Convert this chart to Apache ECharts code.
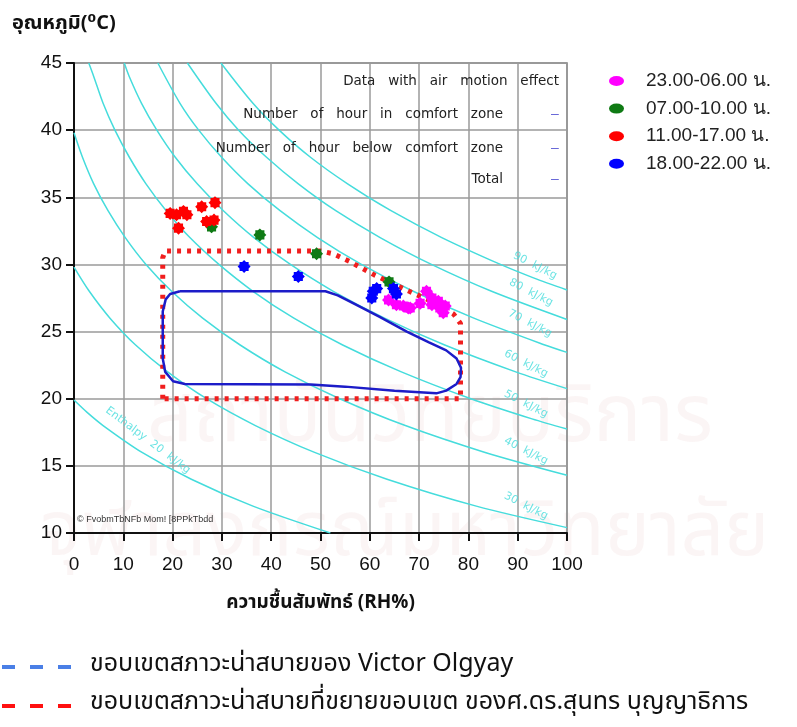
<!DOCTYPE html>
<html>
<head>
<meta charset="utf-8">
<script src="https://cdn.jsdelivr.net/npm/echarts@6/dist/echarts.min.js"></script>
<style>
  html, body { margin: 0; padding: 0; background: #fff; }
  #chart { width: 797px; height: 727px; }
</style>
</head>
<body>
<div id="chart"></div>
<script>
// scatter groups: relative humidity (%) and temperature (C)
var groupNames = ['23.00-06.00 น.', '07.00-10.00 น.', '11.00-17.00 น.', '18.00-22.00 น.'];
var nightRH = [63.8, 65.4, 66.8, 67.8, 68.2, 70.2, 71.5, 72.6, 72.6, 73.9, 74.2, 74.9, 75.3];
var nightT  = [27.35, 27.0, 26.9, 26.75, 26.75, 27.1, 28.0, 27.5, 27.0, 27.25, 26.75, 26.4, 26.9];
var morningRH = [27.9, 37.7, 49.2, 63.9];
var morningT  = [32.8, 32.2, 30.8, 28.7];
var dayRH = [19.5, 20.8, 22.2, 22.9, 21.2, 25.9, 28.6, 26.9, 28.4];
var dayT  = [33.8, 33.7, 33.95, 33.7, 32.7, 34.3, 34.6, 33.2, 33.3];
var eveningRH = [34.5, 45.5, 60.4, 60.7, 61.4, 64.8, 65.4];
var eveningT  = [29.85, 29.1, 27.5, 28.0, 28.2, 28.2, 27.8];

// comfort zones [RH, T]
var olgyayZone = [[21.5,28.0],[51,28.0],[53.5,27.7],[56.7,27.1],[62,26.1],[67.5,25.0],[72,24.2],[75.5,23.6],[77.6,23.0],[78.5,22.3],[78.4,21.6],[77.6,21.1],[75.5,20.6],[73.5,20.4],[65,20.6],[55,20.9],[48,21.05],[22.5,21.1],[20.1,21.3],[18.5,22.0],[18.0,23.0],[18.0,26.5],[18.6,27.4],[19.5,27.8],[21.5,28.0]];
var extendedZone = [[18,20],[18,30.5],[18.5,31],[50,31],[52.5,30.8],[56,30.2],[61,29.2],[68,28],[74,27],[77,26.3],[78.4,25.6],[78.4,20],[18,20]];

// enthalpy lines [RH, T]
var enthalpyLevels = [20, 30, 40, 50, 60, 70, 80, 90];
var enthalpy20 = [[0,19.9],[2.6,19],[5.9,18],[13.8,16],[23.8,14],[36.3,12],[52,10]];
var enthalpy30 = [[0,29.8],[3.1,28],[7.3,26],[12.5,24],[19,22],[26.9,20],[36.8,18],[48.8,16],[63.5,14],[81.6,12],[100,10.4]];
var enthalpy40 = [[0,39.8],[1.7,38],[4,36],[6.9,34],[10.4,32],[14.6,30],[19.8,28],[26.1,26],[33.7,24],[42.8,22],[53.9,20],[67.2,18],[83.4,16],[100,14.3]];
var enthalpy50 = [[3,45],[4,44],[5.9,42],[8.3,40],[11.2,38],[14.6,36],[18.7,34],[23.5,32],[29.4,30],[36.3,28],[44.6,26],[54.5,24],[66.4,22],[80.5,20],[92.9,18.5],[100,17.75]];
var enthalpy60 = [[10.2,45],[11.2,44],[13.7,42],[16.8,40],[20.5,38],[25,36],[30.3,34],[36.5,32],[43.9,30],[52.6,28],[63,26],[75.2,24],[89.6,22],[100,20.75]];
var enthalpy70 = [[17,45],[21.5,42],[25.3,40],[29.9,38],[35.3,36],[41.8,34],[49.4,32],[58.3,30],[68.8,28],[81.1,26],[95.5,24],[100,23.45]];
var enthalpy80 = [[23,45],[28.8,42],[33.4,40],[39,38],[45.5,36],[53.1,34],[62.1,32],[72.5,30],[84.7,28],[100,25.9]];
var enthalpy90 = [[29.8,45],[36.3,42],[41.6,40],[47.9,38],[55.5,36],[64.3,34],[74.6,32],[86.5,30],[93.2,29],[100,28.1]];
var enthalpyLines = [enthalpy20, enthalpy30, enthalpy40, enthalpy50, enthalpy60, enthalpy70, enthalpy80, enthalpy90];
var enthalpyTexts = ['Enthalpy  20  kJ/kg', '30  kJ/kg', '40  kJ/kg', '50  kJ/kg', '60  kJ/kg', '70  kJ/kg', '80  kJ/kg', '90  kJ/kg'];

// where the enthalpy captions sit (data coords) and their tilt
var captionAt = [[15,16.9],[91.7,12.0],[91.7,16.1],[91.7,19.6],[91.7,22.6],[92.5,25.6],[92.7,27.9],[93.5,29.9]];
var captionTilt = [-37, -27, -27, -27, -27, -27, -27, -27];

var NARROW = "'Liberation Sans Narrow', 'Arial Narrow', 'Liberation Sans', sans-serif";
var THAI = "'Noto Sans Thai', 'Noto Sans Thai Looped', 'TH Sarabun New', Loma, Garuda, Norasi, 'Tlwg Typist', 'DejaVu Sans', sans-serif";
var CYAN = '#45dcdc';
var flower = 'path://M5,0 L6.5,1.5 L8.5,1.5 L8.5,3.5 L10,5 L8.5,6.5 L8.5,8.5 L6.5,8.5 L5,10 L3.5,8.5 L1.5,8.5 L1.5,6.5 L0,5 L1.5,3.5 L1.5,1.5 L3.5,1.5 Z';

function pairs(xs, ys) {
  return xs.map(function (x, i) { return [x, ys[i]]; });
}

var chart = echarts.init(document.getElementById('chart'), null, { renderer: 'canvas' });

var series = [];
enthalpyLines.forEach(function (pts, i) {
  series.push({
    name: 'h' + enthalpyLevels[i], type: 'line', data: pts, smooth: 0.3,
    symbol: 'none', silent: true, z: 1,
    lineStyle: { color: CYAN, width: 1.5 }
  });
});
series.push({
  name: 'captions', type: 'scatter', symbolSize: 0, silent: true, z: 2,
  data: captionAt.map(function (p, i) {
    return { value: p, label: { show: true, position: 'inside', formatter: enthalpyTexts[i], rotate: captionTilt[i] } };
  }),
  label: { color: CYAN, fontSize: 11, fontFamily: 'DejaVu Sans' }
});
series.push({
  name: 'extended', type: 'line', data: extendedZone, symbol: 'none', silent: true, z: 3,
  lineStyle: { color: '#f01e1e', width: 5, type: [4, 6], cap: 'butt' }
});
series.push({
  name: 'olgyay', type: 'line', data: olgyayZone, symbol: 'none', silent: true, z: 3,
  lineStyle: { color: '#1c1cc8', width: 2.5 }
});
var groups = [
  { name: groupNames[1], data: pairs(morningRH, morningT), color: '#0f7a14' },
  { name: groupNames[0], data: pairs(nightRH, nightT), color: '#ff00ff' },
  { name: groupNames[3], data: pairs(eveningRH, eveningT), color: '#0000ff' },
  { name: groupNames[2], data: pairs(dayRH, dayT), color: '#ff0000' }
];
groups.forEach(function (g) {
  series.push({
    name: g.name, type: 'scatter', data: g.data, symbol: flower, symbolSize: 13, z: 4,
    itemStyle: { color: g.color, opacity: 1 }
  });
});

var tableFont = { fontSize: 13.5, fontFamily: 'DejaVu Sans', fill: '#222' };
function tableText(txt, right, y) {
  return { type: 'text', x: right, y: y, z: 10,
    style: Object.assign({ text: txt, align: 'right', verticalAlign: 'middle' }, tableFont) };
}
function dashKey(y, color) {
  return { type: 'line', z: 10, shape: { x1: 2, y1: y, x2: 72, y2: y },
    style: { stroke: color, lineWidth: 4, lineDash: [13, 15] } };
}
function markDash(y) {
  return { type: 'text', x: 555, y: y, z: 10,
    style: { text: '–', fontSize: 14, fill: '#6a6ad8', align: 'center', verticalAlign: 'middle' } };
}
function watermark(txt, x, y, size) {
  return { type: 'text', x: x, y: y, z: -10, silent: true,
    style: { text: txt, fontSize: size, fontFamily: THAI, fill: 'rgba(215,140,140,0.09)', align: 'center', verticalAlign: 'middle' } };
}

chart.setOption({
  animation: false,
  backgroundColor: '#fff',
  grid: { left: 74, top: 63, width: 493, height: 470, show: true, borderColor: '#777', borderWidth: 1.5, backgroundColor: 'transparent' },
  legend: {
    data: groupNames, orient: 'vertical', left: 604, top: 66,
    itemWidth: 15, itemHeight: 10, itemGap: 7.6,
    icon: 'path://M0,5 A7.5,5 0 1,0 15,5 A7.5,5 0 1,0 0,5 Z',
    textStyle: { fontSize: 19, fontFamily: NARROW, color: '#222', padding: [0, 0, 0, 17], lineHeight: 20 }
  },
  xAxis: {
    type: 'value', min: 0, max: 100, interval: 10,
    name: 'ความชื้นสัมพัทธ์ (RH%)', nameLocation: 'middle', nameGap: 62,
    nameTextStyle: { fontSize: 19, fontWeight: 'bold', fontFamily: THAI, color: '#111' },
    axisLine: { lineStyle: { color: '#111', width: 2 } },
    axisTick: { show: true, length: 8, lineStyle: { color: '#111', width: 2 } },
    axisLabel: { fontSize: 19, fontFamily: NARROW, color: '#111', margin: 22 },
    splitLine: { lineStyle: { color: '#9a9a9a', width: 1.5 } }
  },
  yAxis: {
    type: 'value', min: 10, max: 45, interval: 5,
    axisLine: { show: true, lineStyle: { color: '#111', width: 2 } },
    axisTick: { show: true, length: 8, lineStyle: { color: '#111', width: 2 } },
    axisLabel: { fontSize: 19, fontFamily: NARROW, color: '#111', margin: 12 },
    splitLine: { lineStyle: { color: '#9a9a9a', width: 1.5 } }
  },
  series: series,
  graphic: [
    watermark('สถาบันวิทยบริการ', 430, 425, 80),
    watermark('จุฬาลงกรณ์มหาวิทยาลัย', 405, 540, 76),
    { type: 'text', left: 12, top: 15, z: 10,
      style: { text: 'อุณหภูมิ(⁰C)', fontSize: 20, fontWeight: 'bold', fontFamily: THAI, fill: '#111' } },
    tableText('Data   with   air   motion   effect', 559, 81),
    tableText('Number   of   hour   in   comfort   zone', 503, 114),
    tableText('Number   of   hour   below   comfort   zone', 503, 148),
    tableText('Total', 503, 179),
    markDash(114), markDash(148), markDash(179),
    { type: 'text', left: 77, top: 515, z: 10,
      style: { text: '© FvobmTbNFb Mom! [8PPkTbdd', fontSize: 9, fontFamily: NARROW, fill: '#333' } },
    dashKey(667, '#4a7fe6'),
    dashKey(706, '#ff1010'),
    { type: 'text', x: 90, y: 666, z: 10,
      style: { text: 'ขอบเขตสภาวะน่าสบายของ Victor Olgyay', fontSize: 25, fontFamily: THAI, fill: '#111', verticalAlign: 'middle' } },
    { type: 'text', x: 90, y: 704, z: 10,
      style: { text: 'ขอบเขตสภาวะน่าสบายที่ขยายขอบเขต ของศ.ดร.สุนทร บุญญาธิการ', fontSize: 25, fontFamily: THAI, fill: '#111', verticalAlign: 'middle' } }
  ]
});
</script>
</body>
</html>
